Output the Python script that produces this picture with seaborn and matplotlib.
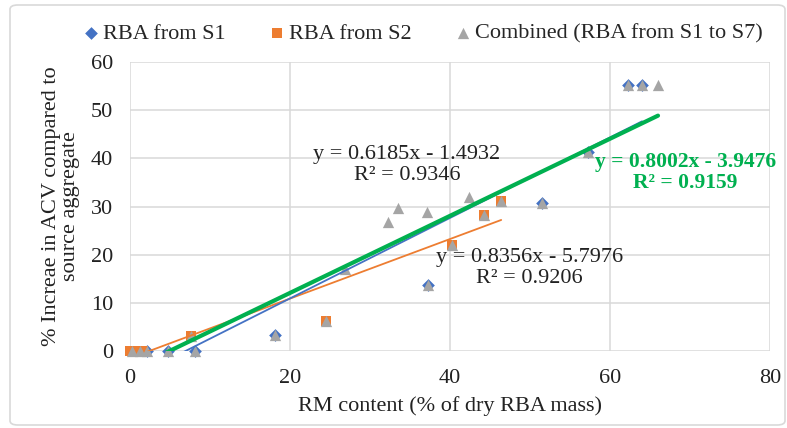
import numpy as np
import pandas as pd
import matplotlib
matplotlib.use("Agg")
import matplotlib.pyplot as plt
import seaborn as sns
from matplotlib.patches import FancyBboxPatch

# ---- data ----
s1_x = [2.1, 4.8, 8.1, 18.1, 37.3, 51.5, 57.2, 62.2, 64.0]
s1_y = [0.0, 0.0, 0.0, 3.3, 13.7, 30.8, 41.4, 55.3, 55.3]

s2_x = [0.0, 0.8, 1.6, 7.6, 24.5, 40.3, 44.3, 46.4]
s2_y = [0.0, 0.0, 0.0, 3.2, 6.2, 22.1, 28.2, 31.2]

comb_x = [0.2, 1.25, 2.1, 4.8, 7.6, 8.1, 18.1, 24.5, 26.9, 32.3, 33.5, 37.1,
          37.3, 40.3, 42.4, 44.3, 46.4, 51.5, 57.2, 62.2, 64.0, 66.0]
comb_y = [0.0, 0.0, 0.0, 0.0, 3.2, 0.0, 3.3, 6.2, 17.1, 26.7, 29.6, 28.9,
          13.7, 22.1, 32.0, 28.2, 31.2, 30.8, 41.4, 55.3, 55.3, 55.3]

# trendline coefficients (slope, intercept) as labelled
fit_s1 = [0.8356, -5.7976]
fit_s2 = [0.6185, -1.4932]
fit_comb = [0.8002, -3.9476]

labels = ["RBA from S1", "RBA from S2", "Combined (RBA from S1 to S7)"]
eq_texts = ["y = 0.6185x - 1.4932\nR² = 0.9346",
            "y = 0.8356x - 5.7976\nR² = 0.9206",
            "y = 0.8002x - 3.9476\nR² = 0.9159"]

x_ticks = [0, 20, 40, 60, 80]
y_ticks = [0, 10, 20, 30, 40, 50, 60]

BLUE = "#4472c4"
ORANGE = "#ed7d31"
GRAY = "#a5a5a5"
GREEN = "#00b050"
TXT = "#222222"
FS = 16

sns.set_theme(style="white")
plt.rcParams['font.family'] = ['Liberation Serif', 'DejaVu Serif']

fig = plt.figure(figsize=(7.87, 4.28), dpi=100)
ax = fig.add_axes([130/787, 1-351/428, 640/787, 289/428])

# outer chart border
fig.patches.append(FancyBboxPatch((10/787, 3/428), 775/787, 420/428,
                                  boxstyle="round,pad=0,rounding_size=0.01",
                                  transform=fig.transFigure, fill=False,
                                  edgecolor="#d9d9d9", linewidth=1.2, zorder=0))

df1 = pd.DataFrame({"x": s1_x, "y": s1_y})
df2 = pd.DataFrame({"x": s2_x, "y": s2_y})
dfc = pd.DataFrame({"x": comb_x, "y": comb_y})

sns.scatterplot(data=df1, x="x", y="y", ax=ax, marker="D", s=42, color=BLUE,
                edgecolor=BLUE, linewidth=0, clip_on=False, zorder=3, label=labels[0])
sns.scatterplot(data=df2, x="x", y="y", ax=ax, marker="s", s=62, color=ORANGE,
                edgecolor=ORANGE, linewidth=0, clip_on=False, zorder=4, label=labels[1])
sns.scatterplot(data=dfc, x="x", y="y", ax=ax, marker="^", s=66, color=GRAY,
                edgecolor=GRAY, linewidth=0, clip_on=False, zorder=5, label=labels[2])

def fit_df(xs, coef):
    xr = np.array([min(xs), max(xs)])
    return pd.DataFrame({"x": xr, "y": coef[0] * xr + coef[1]})

sns.lineplot(data=fit_df(s2_x, fit_s2), x="x", y="y", ax=ax, color=ORANGE,
             linewidth=1.3, zorder=6, legend=False)
sns.lineplot(data=fit_df(s1_x, fit_s1), x="x", y="y", ax=ax, color=BLUE,
             linewidth=1.3, zorder=6, legend=False)
sns.lineplot(data=fit_df(comb_x, fit_comb), x="x", y="y", ax=ax, color=GREEN,
             linewidth=3.0, zorder=7, legend=False)

ax.set_xlim(0, 80)
ax.set_ylim(0, 60)
ax.set_xticks(x_ticks)
ax.set_yticks(y_ticks)
ax.set_xticklabels([str(t) for t in x_ticks], fontsize=FS)
ax.set_yticklabels([str(t) for t in y_ticks], fontsize=FS)
ax.tick_params(axis="x", length=0, pad=13, colors=TXT)
ax.tick_params(axis="y", length=0, pad=12, colors=TXT)
ax.grid(True, color="#d9d9d9", linewidth=1.1)
ax.set_axisbelow(True)
for sp in ax.spines.values():
    sp.set_visible(False)

ax.set_xlabel("RM content (% of dry RBA mass)", fontsize=FS, color=TXT, labelpad=6)
ax.set_ylabel("% Increae in ACV compared to\nsource aggregate", fontsize=FS,
              color=TXT, labelpad=8, linespacing=1.0)

ax.text(34.6, 38.6, eq_texts[0], ha="center", va="center", fontsize=FS,
        color=TXT, linespacing=1.1, zorder=8)
ax.text(49.9, 17.2, eq_texts[1], ha="center", va="center", fontsize=FS,
        color=TXT, linespacing=1.1, zorder=8)
ax.text(69.4, 37.1, eq_texts[2], ha="center", va="center", fontsize=15.5,
        color=GREEN, fontweight="bold", linespacing=1.1, zorder=8, clip_on=False)

h, l = ax.get_legend_handles_labels()
ax.get_legend().remove()
fig.legend(h, l, loc="center", bbox_to_anchor=(0.535, 0.922), ncol=3,
           frameon=False, fontsize=FS, handletextpad=0.05, columnspacing=1.8,
           markerscale=1.0, handlelength=1.0)

fig.savefig("out.png", dpi=100)
